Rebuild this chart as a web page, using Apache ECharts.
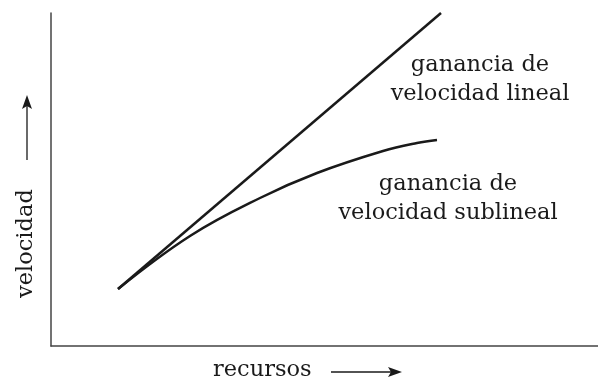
<!DOCTYPE html>
<html>
<head>
<meta charset="utf-8">
<script src="https://cdn.jsdelivr.net/npm/echarts@6/dist/echarts.min.js"></script>
<style>
  html, body { margin: 0; padding: 0; background: #fff; }
  #chart { width: 598px; height: 381px; }
</style>
</head>
<body>
<div id="chart"></div>
<script>
// [recursos, velocidad] in arbitrary units
const linealData = [[67, 57], [390, 333]]
const sublinealData = [[67, 57], [139, 110], [209, 148], [266, 173], [332, 195], [366, 203], [386, 206]]

const labelLineal = ['ganancia de', 'velocidad lineal']
const labelSublineal = ['ganancia de', 'velocidad sublineal']
const xName = 'recursos'
const yName = 'velocidad'

const font = '22.5px "DejaVu Serif"'
const ink = '#1a1a1a'

const myChart = echarts.init(document.getElementById('chart'))

myChart.setOption({
  animation: false,
  grid: { left: 51, right: 0, top: 13, bottom: 35 },
  xAxis: {
    type: 'value', min: 0, max: 547,
    axisLine: { show: true, lineStyle: { color: '#444', width: 1.5 } },
    axisTick: { show: false }, axisLabel: { show: false }, splitLine: { show: false }
  },
  yAxis: {
    type: 'value', min: 0, max: 333,
    axisLine: { show: true, lineStyle: { color: '#444', width: 1.5 } },
    axisTick: { show: false }, axisLabel: { show: false }, splitLine: { show: false }
  },
  series: [
    {
      name: 'lineal',
      type: 'line',
      data: linealData,
      showSymbol: false,
      lineStyle: { color: ink, width: 2.5 }
    },
    {
      name: 'sublineal',
      type: 'line',
      data: sublinealData,
      smooth: 0.4,
      showSymbol: false,
      lineStyle: { color: ink, width: 2.5 }
    }
  ],
  graphic: [
    {
      type: 'text', style: {
        text: labelLineal.join('\n'), font: font, fill: ink,
        align: 'center', verticalAlign: 'top', lineHeight: 29, x: 480, y: 51
      }
    },
    {
      type: 'text', style: {
        text: labelSublineal.join('\n'), font: font, fill: ink,
        align: 'center', verticalAlign: 'top', lineHeight: 29, x: 448, y: 170
      }
    },
    {
      type: 'text', style: {
        text: xName, font: font, fill: ink, verticalAlign: 'top', x: 213, y: 359
      }
    },
    { type: 'line', shape: { x1: 331, y1: 372, x2: 395, y2: 372 }, style: { stroke: ink, lineWidth: 1.3 } },
    { type: 'polygon', shape: { points: [[402, 372], [388, 367], [391, 372], [388, 377]] }, style: { fill: ink } },
    {
      type: 'text', rotation: Math.PI / 2, x: 15, y: 298, style: {
        text: yName, font: font, fill: ink, verticalAlign: 'top'
      }
    },
    { type: 'line', shape: { x1: 27, y1: 160, x2: 27, y2: 102 }, style: { stroke: ink, lineWidth: 1.3 } },
    { type: 'polygon', shape: { points: [[27, 95], [22, 109], [27, 106], [32, 109]] }, style: { fill: ink } }
  ]
})
</script>
</body>
</html>
